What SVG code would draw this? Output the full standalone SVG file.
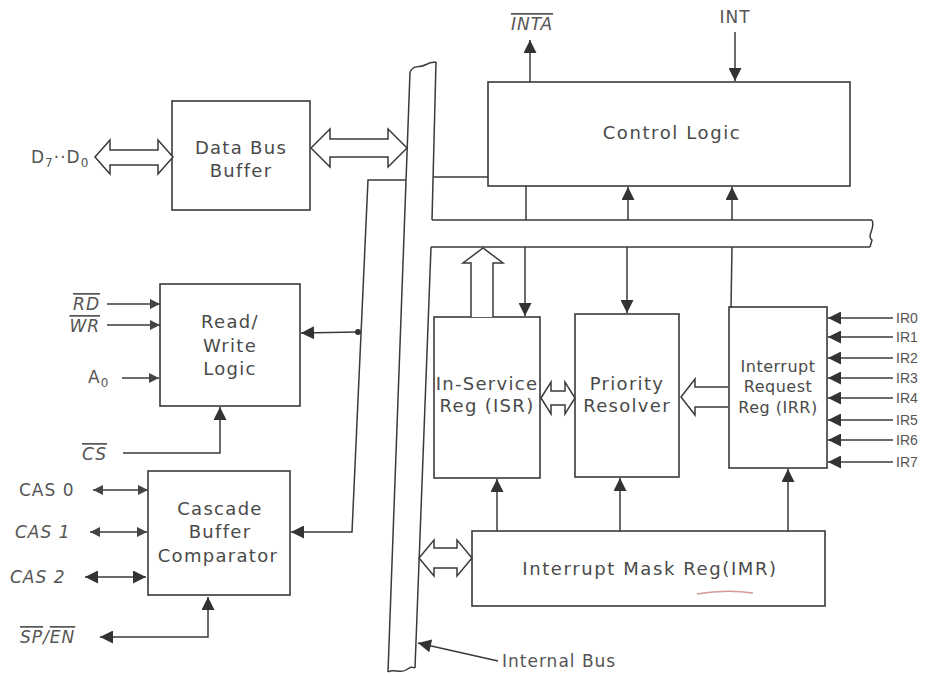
<svg xmlns="http://www.w3.org/2000/svg" width="946" height="676" viewBox="0 0 946 676">
<style>
.box{fill:none;stroke:#3a3a3a;stroke-width:1.6}
.ln{fill:none;stroke:#3a3a3a;stroke-width:1.5}
.hol{fill:#fff;stroke:#3a3a3a;stroke-width:1.5;stroke-linejoin:miter}
.t{font-family:"DejaVu Sans",sans-serif;font-size:18px;fill:#4a4a4a;letter-spacing:1.3px;text-anchor:middle}
.s{font-family:"DejaVu Sans",sans-serif;font-size:16px;fill:#4a4a4a;letter-spacing:0.5px;text-anchor:middle}
.lb{font-family:"DejaVu Sans",sans-serif;font-size:17px;fill:#555;letter-spacing:1px}
.it{font-style:italic}
.ov{text-decoration:overline}
.ir{font-family:"Liberation Sans",sans-serif;font-size:14px;fill:#555}
</style>
<defs>
<marker id="a" viewBox="0 0 10 10" refX="10" refY="5" markerWidth="14" markerHeight="13" markerUnits="userSpaceOnUse" orient="auto-start-reverse"><path d="M0,0L10,5L0,10z" fill="#333"/></marker>
<marker id="m" viewBox="0 0 10 10" refX="10" refY="5" markerWidth="11" markerHeight="10" markerUnits="userSpaceOnUse" orient="auto-start-reverse"><path d="M0,0L10,5L0,10z" fill="#444"/></marker>
</defs>
<rect width="946" height="676" fill="#fff"/>

<g id="internal-bus">
<path class="ln" d="M410,72L388,672"/>
<path class="ln" d="M410,72C414,64 420,68 425,65S432,62 436,62"/>
<path class="ln" d="M436,62L432,220"/>
<path class="ln" d="M433,177L488,177"/>
<path class="ln" d="M432,220L872,220"/>
<path class="ln" d="M431,247L870,247"/>
<path class="ln" d="M872,220C876,228 866,236 872,240L870,247"/>
<path class="ln" d="M431,247L415,668"/>
<path class="ln" d="M388,672C394,668 400,674 406,670S412,667 415,668"/>
<text class="lb" x="502" y="667">Internal Bus</text>
</g>

<g id="data-bus-buffer">
<rect class="box" x="172" y="101" width="138" height="109"/>
<text class="t" x="241" y="154">Data Bus</text>
<text class="t" x="241" y="177">Buffer</text>
</g>

<g id="read-write-logic">
<rect class="box" x="160" y="284" width="140" height="122"/>
<text class="t" x="230" y="328">Read/</text>
<text class="t" x="230" y="352">Write</text>
<text class="t" x="230" y="375">Logic</text>
</g>

<g id="cascade-buffer">
<rect class="box" x="148" y="471" width="142" height="124"/>
<text class="t" x="220" y="515">Cascade</text>
<text class="t" x="220" y="538">Buffer</text>
<text class="t" x="218" y="562">Comparator</text>
</g>

<g id="control-logic">
<rect class="box" x="488" y="82" width="362" height="104"/>
<text class="t" x="672" y="139" style="letter-spacing:1.6px">Control Logic</text>
</g>

<g id="isr">
<rect class="box" x="434" y="317" width="106" height="161"/>
<text class="t" x="487" y="390">In-Service</text>
<text class="t" x="487" y="412">Reg (ISR)</text>
</g>

<g id="priority-resolver">
<rect class="box" x="575" y="314" width="104" height="163"/>
<text class="t" x="627" y="390">Priority</text>
<text class="t" x="627" y="412">Resolver</text>
</g>

<g id="irr">
<rect class="box" x="729" y="307" width="98" height="161"/>
<text class="s" x="778" y="372">Interrupt</text>
<text class="s" x="778" y="392">Request</text>
<text class="s" x="778" y="413">Reg (IRR)</text>
</g>

<g id="imr">
<rect class="box" x="472" y="531" width="353" height="75"/>
<text class="t" x="650" y="575" style="letter-spacing:1.6px">Interrupt Mask Reg(IMR)</text>
<path d="M697,594Q725,589 753,593" fill="none" stroke="#d49a9a" stroke-width="1.6"/>
</g>

<g id="labels">
<text class="lb" x="31" y="163">D<tspan font-size="12" dy="4">7</tspan><tspan dy="-4">··</tspan>D<tspan font-size="12" dy="4">0</tspan></text>
<text class="lb it ov" x="100" y="310" text-anchor="end">RD</text>
<text class="lb it ov" x="100" y="332" text-anchor="end">WR</text>
<text class="lb" x="88" y="383">A<tspan font-size="12" dy="4">0</tspan></text>
<text class="lb it ov" x="82" y="460">CS</text>
<text class="lb" x="19" y="496">CAS 0</text>
<text class="lb it" x="15" y="538">CAS 1</text>
<text class="lb it" x="10" y="583">CAS 2</text>
<text class="lb it" x="20" y="643"><tspan class="ov">SP</tspan>/<tspan class="ov">EN</tspan></text>
<text class="lb it ov" x="532" y="30" text-anchor="middle">INTA</text>
<text class="lb" x="735" y="23" text-anchor="middle">INT</text>
<text class="ir" x="896" y="323">IR0</text>
<text class="ir" x="896" y="342">IR1</text>
<text class="ir" x="896" y="363">IR2</text>
<text class="ir" x="896" y="383">IR3</text>
<text class="ir" x="896" y="403">IR4</text>
<text class="ir" x="896" y="425">IR5</text>
<text class="ir" x="896" y="445">IR6</text>
<text class="ir" x="896" y="467">IR7</text>
</g>

<g id="connectors">
<path class="hol" d="M95,157L110,140L110,150L158,150L158,140L173,157L158,174L158,165L110,165L110,174z"/>
<path class="hol" d="M311,148L330,129L330,139L388,139L388,129L407,148L388,167L388,157L330,157L330,167z"/>
<path class="hol" d="M541,398L551,382L551,391L565,391L565,382L575,398L565,414L565,405L551,405L551,414z"/>
<path class="hol" d="M419,558L434,540L434,548L457,548L457,540L472,558L457,576L457,568L434,568L434,576z"/>
<path class="hol" d="M728,387L695,387L695,379L681,397L695,415L695,407L728,407"/>
<path class="hol" d="M471,317L471,263L463,263L483,248L503,263L493,263L493,317"/>

<path class="ln" d="M530,82L530,40" marker-end="url(#a)"/>
<path class="ln" d="M735,32L735,81" marker-end="url(#a)"/>
<path class="ln" d="M628,220L628,187" marker-end="url(#a)"/>
<path class="ln" d="M732,220L732,187" marker-end="url(#a)"/>
<path class="ln" d="M526,186L526,220"/>
<path class="ln" d="M525,247L525,316" marker-end="url(#a)"/>
<path class="ln" d="M627,247L627,313" marker-end="url(#a)"/>
<path class="ln" d="M732,247L731,308"/>

<path class="ln" d="M893,318L828,318" marker-end="url(#a)"/>
<path class="ln" d="M893,337L828,337" marker-end="url(#a)"/>
<path class="ln" d="M893,358L828,358" marker-end="url(#a)"/>
<path class="ln" d="M893,378L828,378" marker-end="url(#a)"/>
<path class="ln" d="M893,398L828,398" marker-end="url(#a)"/>
<path class="ln" d="M893,420L828,420" marker-end="url(#a)"/>
<path class="ln" d="M893,440L828,440" marker-end="url(#a)"/>
<path class="ln" d="M893,462L828,462" marker-end="url(#a)"/>

<path class="ln" d="M497,531L497,479" marker-end="url(#a)"/>
<path class="ln" d="M620,531L620,478" marker-end="url(#a)"/>
<path class="ln" d="M788,531L788,469" marker-end="url(#a)"/>

<path class="ln" d="M498,661L418,643" marker-end="url(#a)"/>

<path class="ln" d="M107,304L160,304" marker-end="url(#m)"/>
<path class="ln" d="M107,325L160,325" marker-end="url(#m)"/>
<path class="ln" d="M122,378L159,378" marker-end="url(#m)"/>
<path class="ln" d="M123,453L220,453L220,407" marker-end="url(#a)"/>

<path class="ln" d="M406,180L368,180L352,532L291,532" marker-end="url(#a)"/>
<path class="ln" d="M358,332L301,333" marker-end="url(#a)"/>
<circle cx="358" cy="332" r="3" fill="#333"/>

<path class="ln" d="M93,490L148,490" marker-start="url(#m)" marker-end="url(#m)"/>
<path class="ln" d="M90,532L147,532" marker-start="url(#m)" marker-end="url(#m)"/>
<path class="ln" d="M85,577L146,577" marker-start="url(#a)" marker-end="url(#a)"/>
<path class="ln" d="M208,597L208,637L100,637" marker-start="url(#a)" marker-end="url(#a)"/>
</g>
</svg>
